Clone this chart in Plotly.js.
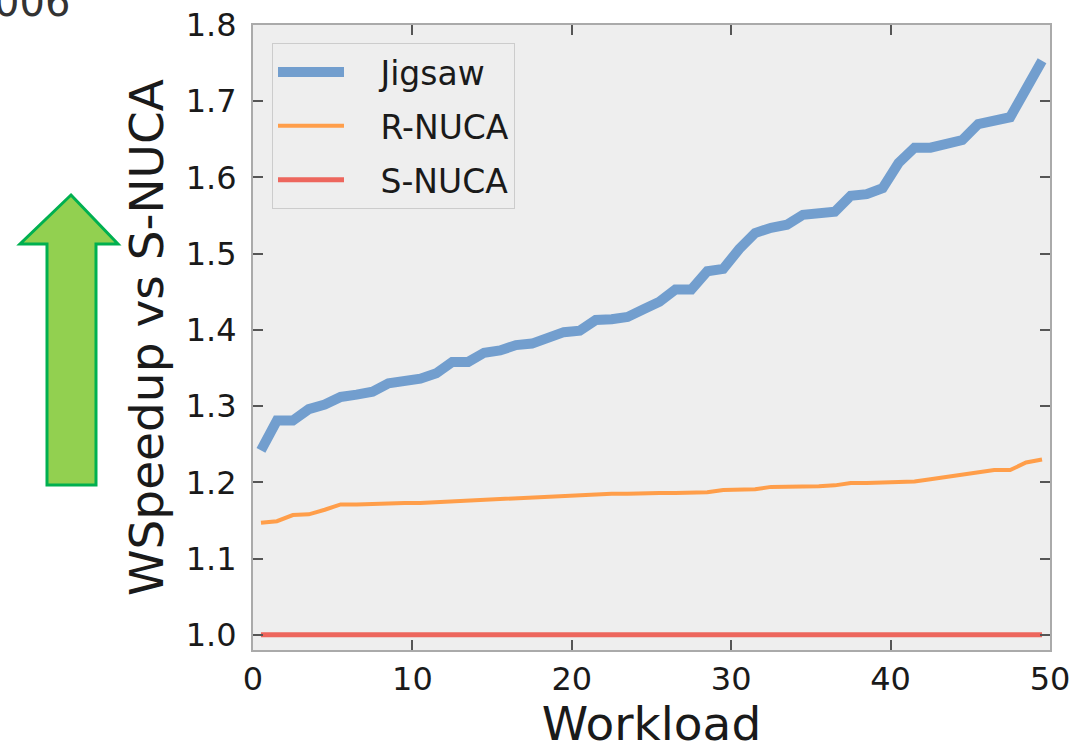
<!DOCTYPE html>
<html>
<head>
<meta charset="utf-8">
<script src="https://cdn.plot.ly/plotly-3.0.1.min.js"></script>
<style>
  html, body { margin: 0; padding: 0; background: #ffffff; }
  #chart { width: 1088px; height: 751px; }
</style>
</head>
<body>
<div id="chart"></div>
<script>
// ---- data ----
const workload = [0.5, 1.5, 2.5, 3.5, 4.5, 5.5, 6.5, 7.5, 8.5, 9.5,
  10.5, 11.5, 12.5, 13.5, 14.5, 15.5, 16.5, 17.5, 18.5, 19.5,
  20.5, 21.5, 22.5, 23.5, 24.5, 25.5, 26.5, 27.5, 28.5, 29.5,
  30.5, 31.5, 32.5, 33.5, 34.5, 35.5, 36.5, 37.5, 38.5, 39.5,
  40.5, 41.5, 42.5, 43.5, 44.5, 45.5, 46.5, 47.5, 48.5, 49.5];

const jigsaw = [1.242, 1.281, 1.281, 1.296, 1.302, 1.312, 1.315, 1.319, 1.330, 1.333,
  1.336, 1.343, 1.358, 1.358, 1.370, 1.373, 1.380, 1.382, 1.389, 1.397,
  1.399, 1.413, 1.414, 1.417, 1.427, 1.437, 1.453, 1.453, 1.477, 1.480,
  1.506, 1.527, 1.534, 1.538, 1.551, 1.553, 1.555, 1.576, 1.578, 1.586,
  1.619, 1.639, 1.639, 1.644, 1.649, 1.670, 1.676, 1.679, 1.716, 1.753];

const rnuca = [1.147, 1.149, 1.157, 1.158, 1.164, 1.171, 1.171, 1.172, 1.172, 1.173,
  1.173, 1.174, 1.175, 1.177, 1.178, 1.179, 1.180, 1.181, 1.182, 1.183,
  1.184, 1.184, 1.185, 1.185, 1.186, 1.186, 1.186, 1.187, 1.187, 1.190,
  1.190, 1.191, 1.194, 1.194, 1.195, 1.195, 1.196, 1.199, 1.199, 1.200,
  1.200, 1.201, 1.204, 1.207, 1.211, 1.214, 1.216, 1.216, 1.226, 1.230];

const snuca = [1.0, 1.0, 1.0, 1.0, 1.0, 1.0, 1.0, 1.0, 1.0, 1.0,
  1.0, 1.0, 1.0, 1.0, 1.0, 1.0, 1.0, 1.0, 1.0, 1.0,
  1.0, 1.0, 1.0, 1.0, 1.0, 1.0, 1.0, 1.0, 1.0, 1.0,
  1.0, 1.0, 1.0, 1.0, 1.0, 1.0, 1.0, 1.0, 1.0, 1.0,
  1.0, 1.0, 1.0, 1.0, 1.0, 1.0, 1.0, 1.0, 1.0, 1.0];

const seriesNames = ["Jigsaw", "R-NUCA", "S-NUCA"];
const xTicks = [0, 10, 20, 30, 40, 50];
const yTicks = [1.0, 1.1, 1.2, 1.3, 1.4, 1.5, 1.6, 1.7, 1.8];
const xTitle = "Workload";
const yTitle = "WSpeedup vs S-NUCA";
const cornerText = "006";

// ---- layout geometry ----
const W = 1088, H = 751;
const M = { l: 253, r: 38, t: 25, b: 101 };
const pw = W - M.l - M.r, ph = H - M.t - M.b;
function px2x(px) { return (px - M.l) / pw; }
function py2y(py) { return (M.t + ph - py) / ph; }

const arrowPts = [[71, 195], [118, 244], [96, 244], [96, 485], [47, 485], [47, 244], [20, 244]];
const arrowPath = 'M ' + arrowPts.map(p => px2x(p[0]).toFixed(5) + ',' + py2y(p[1]).toFixed(5)).join(' L ') + ' Z';

const font = "DejaVu Sans, Verdana, sans-serif";
const pad = '\u00a0\u00a0\u00a0';  // gap between legend sample and label

const traces = [
  { x: workload, y: jigsaw, name: pad + seriesNames[0], mode: 'lines', legendgroup: 'a',
    line: { color: '#729ECE', width: 10 } },
  { x: workload, y: rnuca, name: pad + seriesNames[1], mode: 'lines', legendgroup: 'b',
    line: { color: '#FF9E4A', width: 4 } },
  { x: workload, y: snuca, name: pad + seriesNames[2], mode: 'lines', legendgroup: 'c',
    line: { color: '#ED665D', width: 5 } }
];

const axisCommon = {
  showline: true, linecolor: '#aaaaaa', linewidth: 2, mirror: 'ticks',
  ticks: 'inside', ticklen: 10, tickwidth: 2, tickcolor: '#555555',
  showgrid: false, zeroline: false,
  tickfont: { family: font, size: 32, color: '#1a1a1a' }
};

const layout = {
  width: W, height: H,
  margin: M,
  paper_bgcolor: '#ffffff',
  plot_bgcolor: '#eeeeee',
  font: { family: font, color: '#1a1a1a' },
  showlegend: true,
  legend: {
    x: px2x(272), y: py2y(43), xanchor: 'left', yanchor: 'top',
    bgcolor: '#eeeeee', bordercolor: '#cccccc', borderwidth: 1,
    font: { family: font, size: 33, color: '#1a1a1a' },
    itemwidth: 66, tracegroupgap: 8, traceorder: 'grouped'
  },
  xaxis: Object.assign({}, axisCommon, {
    range: [0, 50], tickmode: 'array', tickvals: xTicks, ticktext: xTicks.map(String),
    ticklabelstandoff: 0,
    title: { text: xTitle, font: { family: font, size: 47, color: '#1a1a1a' }, standoff: 36 }
  }),
  yaxis: Object.assign({}, axisCommon, {
    range: [0.98, 1.8], tickmode: 'array', tickvals: yTicks, ticktext: yTicks.map(v => v.toFixed(1)),
    ticklabelstandoff: 8,
    title: { text: yTitle, font: { family: font, size: 47, color: '#1a1a1a' }, standoff: 7 }
  }),
  shapes: [
    { type: 'path', xref: 'paper', yref: 'paper', path: arrowPath,
      fillcolor: '#92D050', line: { color: '#00B050', width: 3 }, layer: 'above' }
  ],
  annotations: [
    { xref: 'paper', yref: 'paper', x: px2x(72), y: py2y(2), xanchor: 'right', yanchor: 'middle',
      text: cornerText, showarrow: false, font: { family: font, size: 40, color: '#333333' } }
  ]
};

Plotly.newPlot('chart', traces, layout, { displayModeBar: false, staticPlot: true });
</script>
</body>
</html>
